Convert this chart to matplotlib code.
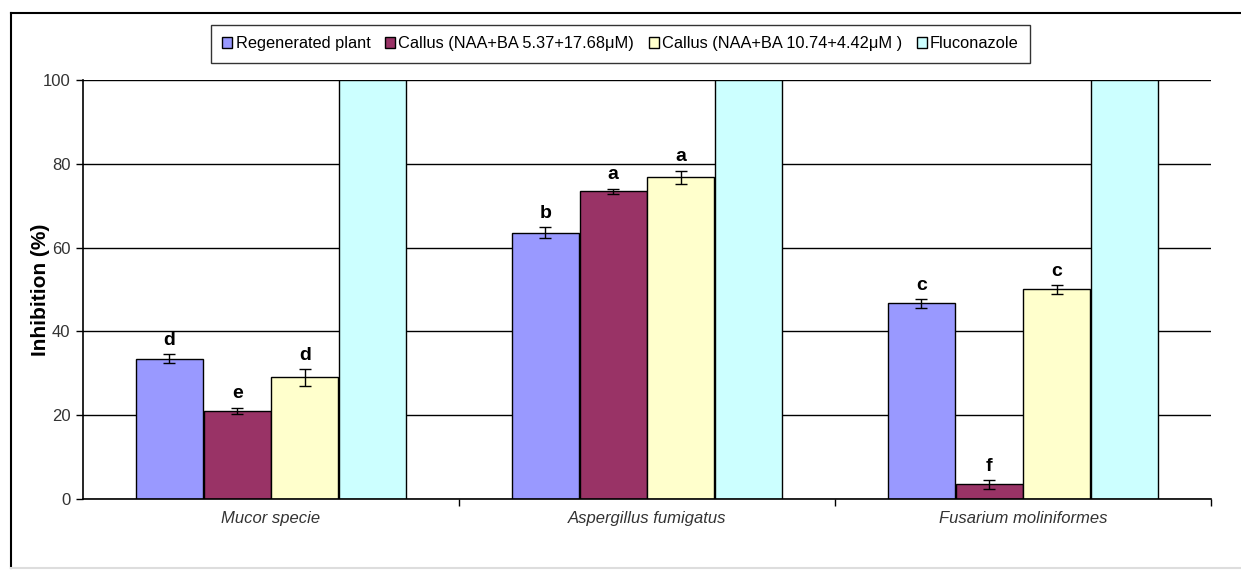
import matplotlib.pyplot as plt
import numpy as np
from matplotlib.lines import Line2D

plt.rcParams["font.family"] = ["Liberation Sans", "DejaVu Sans"]

# data
fungi = ["Mucor specie", "Aspergillus fumigatus", "Fusarium moliniformes"]
series = [
    "Regenerated plant",
    "Callus (NAA+BA 5.37+17.68μM)",
    "Callus (NAA+BA 10.74+4.42μM )",
    "Fluconazole",
]
regenerated = [33.5, 63.5, 46.7]
callus_1 = [21.0, 73.5, 3.5]
callus_2 = [29.0, 76.8, 50.0]
fluconazole = [100, 100, 100]

err_regenerated = [1.0, 1.3, 1.0]
err_callus_1 = [0.8, 0.6, 1.0]
err_callus_2 = [2.0, 1.6, 1.0]

letters_regenerated = ["d", "b", "c"]
letters_callus_1 = ["e", "a", "f"]
letters_callus_2 = ["d", "a", "c"]

colors = ["#9999FF", "#993366", "#FFFFCC", "#CCFFFF"]

fig = plt.figure(figsize=(12.41, 5.71), dpi=100)
ax = fig.add_axes([0.0669, 0.1261, 0.9089, 0.7338])

x = np.arange(len(fungi))
width = 0.178
offsets = [-0.27, -0.09, 0.09, 0.27]
values = [regenerated, callus_1, callus_2, fluconazole]
errors = [err_regenerated, err_callus_1, err_callus_2, None]
letters = [letters_regenerated, letters_callus_1, letters_callus_2, None]

for i in range(4):
    ax.bar(x + offsets[i], values[i], width, color=colors[i], edgecolor="black",
           linewidth=1.0, label=series[i], zorder=2)
    if errors[i] is not None:
        ax.errorbar(x + offsets[i], values[i], yerr=errors[i], fmt="none",
                    ecolor="black", elinewidth=1.0, capsize=4, capthick=1.0, zorder=3)
        for xi, v, e, t in zip(x + offsets[i], values[i], errors[i], letters[i]):
            ax.annotate(t, (xi, v + e), xytext=(0, 4), textcoords="offset points",
                        ha="center", va="bottom", fontsize=14, fontweight="bold")

ax.set_xlim(-0.5, 2.5)
ax.set_ylim(0, 100)
ax.set_yticks([0, 20, 40, 60, 80, 100])
ax.yaxis.grid(True, color="black", linewidth=1.0, zorder=0)
ax.set_axisbelow(True)
ax.set_xticks(x)
ax.set_xticklabels(fungi, fontstyle="italic", fontsize=12, color="#333333")
ax.set_xticks([0.5, 1.5, 2.5], minor=True)
ax.tick_params(axis="x", which="major", length=0, pad=9)
ax.tick_params(axis="x", which="minor", length=5, width=1.0, direction="out")
ax.tick_params(axis="y", length=5, width=1.0, direction="out", labelsize=12,
               labelcolor="#333333", pad=4)
for s in ["top", "right"]:
    ax.spines[s].set_visible(False)
for s in ["left", "bottom"]:
    ax.spines[s].set_linewidth(1.2)

ax.set_ylabel("Inhibition (%)", fontsize=15, fontweight="bold")
ax.yaxis.set_label_coords(-0.029, 0.5)

leg = fig.legend(loc="center", bbox_to_anchor=(0.5, 0.923), ncol=4, frameon=True,
                 fancybox=False, edgecolor="black", fontsize=11.8, handlelength=0.6,
                 handleheight=0.6, handletextpad=0.2, columnspacing=0.9,
                 borderpad=0.7)
leg.get_frame().set_linewidth(1.0)

# outer chart frame
fig.add_artist(Line2D([0.0089, 0.0089], [0.005, 0.977], color="black", lw=1.5))
fig.add_artist(Line2D([0.0089, 1.0], [0.977, 0.977], color="black", lw=1.5))
fig.add_artist(Line2D([0.0089, 1.0], [0.005, 0.005], color="#dddddd", lw=1.5))

fig.savefig("out.png", dpi=100)
